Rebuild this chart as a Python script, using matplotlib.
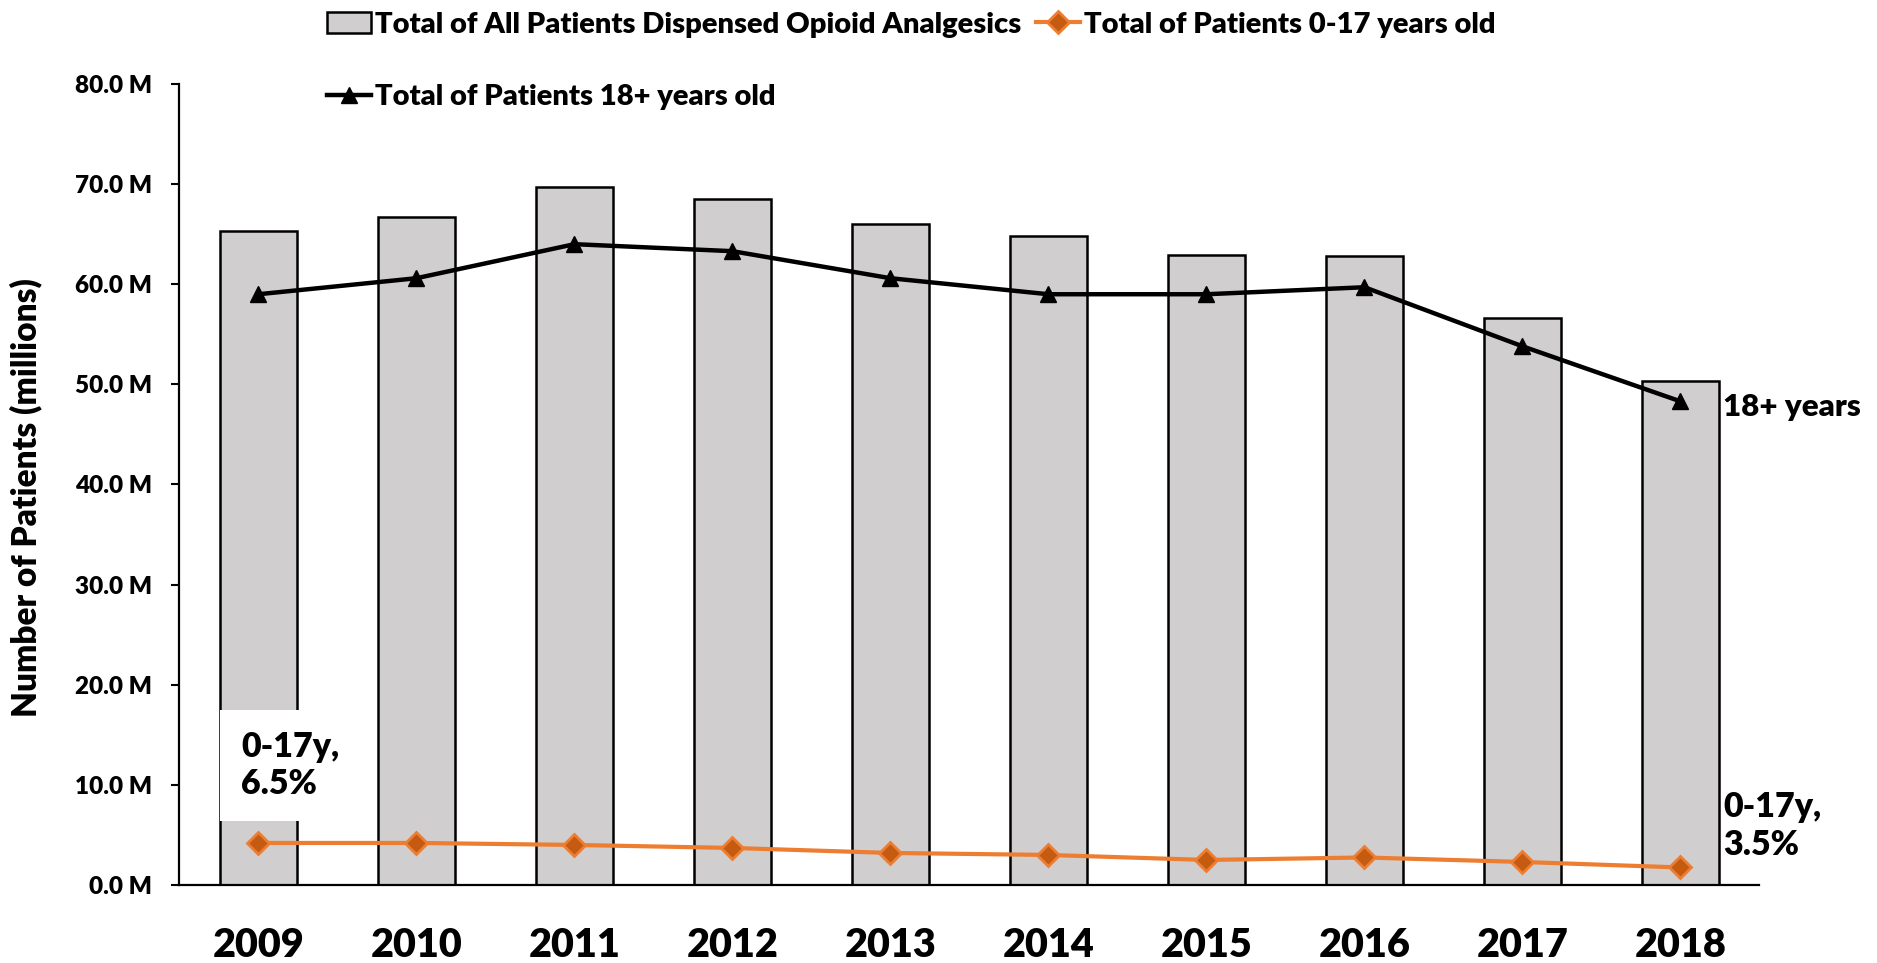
import matplotlib
matplotlib.use('Agg')
from matplotlib import pyplot as plt
from matplotlib.ticker import FuncFormatter

# Data (millions of patients)
years = ['2009', '2010', '2011', '2012', '2013', '2014', '2015', '2016', '2017', '2018']
total_all = [65.3, 66.7, 69.7, 68.5, 66.0, 64.8, 62.9, 62.8, 56.6, 50.3]
adults_18plus = [59.0, 60.6, 64.0, 63.3, 60.6, 59.0, 59.0, 59.7, 53.8, 48.3]
kids_0_17 = [4.2, 4.2, 4.0, 3.7, 3.2, 3.0, 2.5, 2.75, 2.3, 1.75]

bar_label = 'Total of All Patients Dispensed Opioid Analgesics'
kids_label = 'Total of Patients 0-17 years old'
adults_label = 'Total of Patients 18+ years old'

font = ['Lato', 'DejaVu Sans']
weight = 'heavy'

fig = plt.figure(figsize=(18.77, 9.63), dpi=100)
ax = fig.add_axes([0.0956, 0.081, 0.8418, 0.8318])

x = list(range(len(years)))

# Bars for the total
ax.bar(x, total_all, width=0.49, color='#D0CECE', edgecolor='black',
       linewidth=1.8, label=bar_label, zorder=2)

# Lines for the two age groups
ax.plot(x, kids_0_17, color='#ED7D31', linewidth=3, marker='D', markersize=11.5,
        markerfacecolor='#C55A11', markeredgecolor='#ED7D31', markeredgewidth=2,
        label=kids_label, zorder=3)
ax.plot(x, adults_18plus, color='black', linewidth=3.2, marker='^', markersize=11,
        label=adults_label, zorder=3)

ax.set_xlim(-0.5, len(years) - 0.5)
ax.set_ylim(0, 80)
ax.set_yticks([0, 10, 20, 30, 40, 50, 60, 70, 80])
ax.yaxis.set_major_formatter(FuncFormatter(lambda v, p: f'{v:.1f} M'))
ax.set_xticks(x)
ax.set_xticklabels(years, fontsize=28.5, fontweight=weight, family=font)
for t in ax.get_yticklabels():
    t.set_fontsize(17.5)
    t.set_fontweight(weight)
    t.set_family(font)

ax.tick_params(axis='x', length=0, pad=30)
ax.tick_params(axis='y', length=6, width=1.5, pad=14, direction='out')
ax.spines['top'].set_visible(False)
ax.spines['right'].set_visible(False)
ax.spines['left'].set_linewidth(1.6)
ax.spines['bottom'].set_linewidth(1.6)

ax.set_ylabel('Number of Patients (millions)', fontsize=24, fontweight=weight,
              family=font)
ax.yaxis.set_label_coords(-0.087, 0.484)

# Annotations
ax.text(-0.11, 11.9, '0-17y,\n6.5%', fontsize=24.5, fontweight=weight, family=font,
        ha='left', va='center', linespacing=1.2, zorder=4,
        bbox=dict(facecolor='white', edgecolor='none', pad=15))
ax.text(9.27, 47.75, '18+ years', fontsize=22.5, fontweight=weight, family=font,
        ha='left', va='center', clip_on=False)
ax.text(9.27, 5.9, '0-17y,\n3.5%', fontsize=24.5, fontweight=weight, family=font,
        ha='left', va='center', linespacing=1.2, clip_on=False)

# Legend: bar + black in first column, orange in second
handles, labels = ax.get_legend_handles_labels()
lookup = dict(zip(labels, handles))
order = [bar_label, adults_label, kids_label]
fig.legend([lookup[k] for k in order], order,
           loc='upper left', bbox_to_anchor=(0.168, 1.0), ncol=2, frameon=False,
           prop={'family': font, 'weight': weight, 'size': 21},
           handlelength=1.5, handletextpad=0.15, columnspacing=0.5,
           labelspacing=1.6, borderaxespad=0.0)

plt.savefig('out.png', dpi=100)
plt.close()
